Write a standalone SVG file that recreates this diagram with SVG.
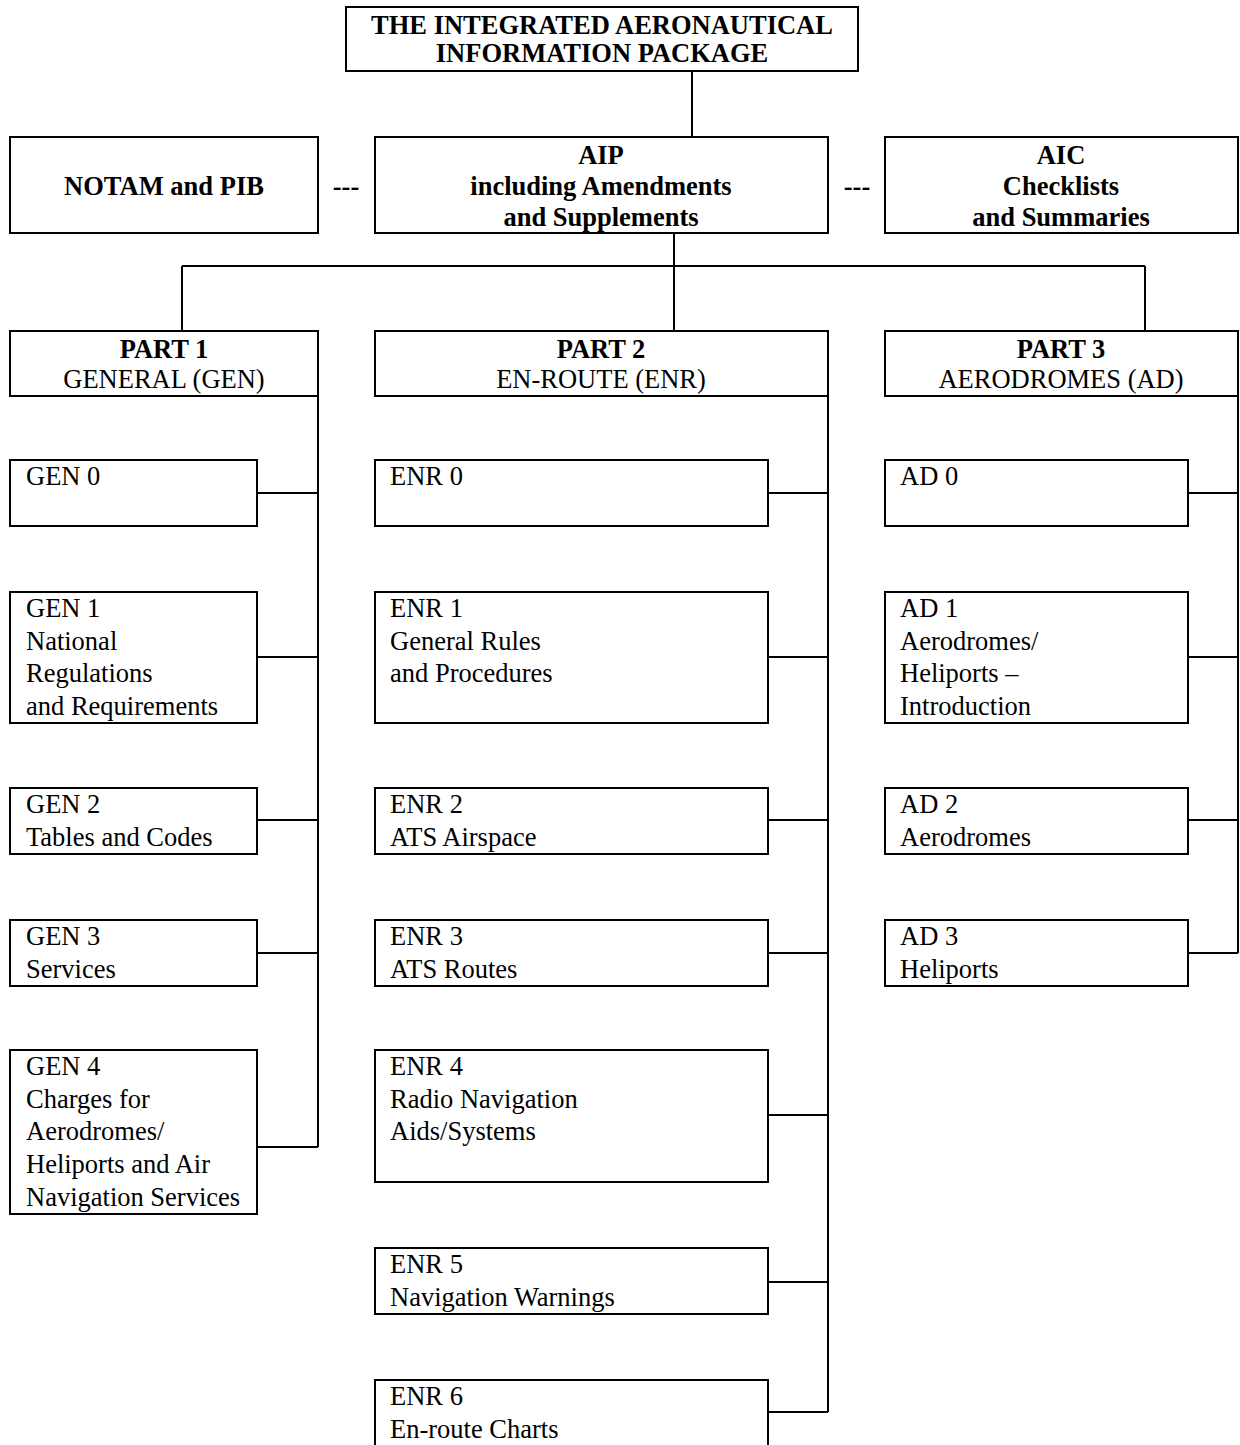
<svg xmlns="http://www.w3.org/2000/svg" width="1240" height="1445" viewBox="0 0 1240 1445">
<style>
  rect { fill: #ffffff; stroke: #000000; stroke-width: 2; }
  .c { fill: none; stroke: #000000; stroke-width: 2; }
  text { font-family: "Liberation Serif", "Times New Roman", serif; font-size: 26.5px; fill: #000000; }
  .b { font-weight: bold; }
  .m { text-anchor: middle; }
</style>
<rect width="1240" height="1445" style="fill:#ffffff;stroke:none"/>
<g id="connectors">
  <path class="c" d="M692 71 V137"/>
  <path class="c" d="M674 233 V266 M182 266 H1145 M182 266 V331 M674 266 V331 M1145 266 V331"/>
  <path class="c" d="M318 396 V1147 M257 493 H318 M257 657 H318 M257 820 H318 M257 953 H318 M257 1147 H318"/>
  <path class="c" d="M828 396 V1412 M768 493 H828 M768 657 H828 M768 820 H828 M768 953 H828 M768 1115 H828 M768 1282 H828 M768 1412 H828"/>
  <path class="c" d="M1238 396 V953 M1188 493 H1238 M1188 657 H1238 M1188 820 H1238 M1188 953 H1238"/>
</g>
<g id="package">
  <rect x="346" y="7" width="512" height="64"/>
  <text class="b m" x="602" y="34">THE INTEGRATED AERONAUTICAL</text>
  <text class="b m" x="602" y="62">INFORMATION PACKAGE</text>
</g>
<g id="notam">
  <rect x="10" y="137" width="308" height="96"/>
  <text class="b m" x="164" y="195">NOTAM and PIB</text>
</g>
<g id="dash1"><text class="b m" x="346" y="195">---</text></g>
<g id="aip">
  <rect x="375" y="137" width="453" height="96"/>
  <text class="b m" x="601" y="164">AIP</text>
  <text class="b m" x="601" y="195">including Amendments</text>
  <text class="b m" x="601" y="226">and Supplements</text>
</g>
<g id="dash2"><text class="b m" x="857" y="195">---</text></g>
<g id="aic">
  <rect x="885" y="137" width="353" height="96"/>
  <text class="b m" x="1061" y="164">AIC</text>
  <text class="b m" x="1061" y="195">Checklists</text>
  <text class="b m" x="1061" y="226">and Summaries</text>
</g>
<g id="part1">
  <rect x="10" y="331" width="308" height="65"/>
  <text class="b m" x="164" y="358">PART 1</text>
  <text class="m" x="164" y="388">GENERAL (GEN)</text>
</g>
<g id="part2">
  <rect x="375" y="331" width="453" height="65"/>
  <text class="b m" x="601" y="358">PART 2</text>
  <text class="m" x="601" y="388">EN-ROUTE (ENR)</text>
</g>
<g id="part3">
  <rect x="885" y="331" width="353" height="65"/>
  <text class="b m" x="1061" y="358">PART 3</text>
  <text class="m" x="1061" y="388">AERODROMES (AD)</text>
</g>
<g id="gen0">
  <rect x="10" y="460" width="247" height="66"/>
  <text x="26" y="485">GEN 0</text>
</g>
<g id="gen1">
  <rect x="10" y="592" width="247" height="131"/>
  <text x="26" y="617">GEN 1</text>
  <text x="26" y="650">National</text>
  <text x="26" y="682">Regulations</text>
  <text x="26" y="715">and Requirements</text>
</g>
<g id="gen2">
  <rect x="10" y="788" width="247" height="66"/>
  <text x="26" y="813">GEN 2</text>
  <text x="26" y="846">Tables and Codes</text>
</g>
<g id="gen3">
  <rect x="10" y="920" width="247" height="66"/>
  <text x="26" y="945">GEN 3</text>
  <text x="26" y="978">Services</text>
</g>
<g id="gen4">
  <rect x="10" y="1050" width="247" height="164"/>
  <text x="26" y="1075">GEN 4</text>
  <text x="26" y="1108">Charges for</text>
  <text x="26" y="1140">Aerodromes/</text>
  <text x="26" y="1173">Heliports and Air</text>
  <text x="26" y="1206">Navigation Services</text>
</g>
<g id="enr0">
  <rect x="375" y="460" width="393" height="66"/>
  <text x="390" y="485">ENR 0</text>
</g>
<g id="enr1">
  <rect x="375" y="592" width="393" height="131"/>
  <text x="390" y="617">ENR 1</text>
  <text x="390" y="650">General Rules</text>
  <text x="390" y="682">and Procedures</text>
</g>
<g id="enr2">
  <rect x="375" y="788" width="393" height="66"/>
  <text x="390" y="813">ENR 2</text>
  <text x="390" y="846">ATS Airspace</text>
</g>
<g id="enr3">
  <rect x="375" y="920" width="393" height="66"/>
  <text x="390" y="945">ENR 3</text>
  <text x="390" y="978">ATS Routes</text>
</g>
<g id="enr4">
  <rect x="375" y="1050" width="393" height="132"/>
  <text x="390" y="1075">ENR 4</text>
  <text x="390" y="1108">Radio Navigation</text>
  <text x="390" y="1140">Aids/Systems</text>
</g>
<g id="enr5">
  <rect x="375" y="1248" width="393" height="66"/>
  <text x="390" y="1273">ENR 5</text>
  <text x="390" y="1306">Navigation Warnings</text>
</g>
<g id="enr6">
  <rect x="375" y="1380" width="393" height="100"/>
  <text x="390" y="1405">ENR 6</text>
  <text x="390" y="1438">En-route Charts</text>
</g>
<g id="ad0">
  <rect x="885" y="460" width="303" height="66"/>
  <text x="900" y="485">AD 0</text>
</g>
<g id="ad1">
  <rect x="885" y="592" width="303" height="131"/>
  <text x="900" y="617">AD 1</text>
  <text x="900" y="650">Aerodromes/</text>
  <text x="900" y="682">Heliports –</text>
  <text x="900" y="715">Introduction</text>
</g>
<g id="ad2">
  <rect x="885" y="788" width="303" height="66"/>
  <text x="900" y="813">AD 2</text>
  <text x="900" y="846">Aerodromes</text>
</g>
<g id="ad3">
  <rect x="885" y="920" width="303" height="66"/>
  <text x="900" y="945">AD 3</text>
  <text x="900" y="978">Heliports</text>
</g>
</svg>
